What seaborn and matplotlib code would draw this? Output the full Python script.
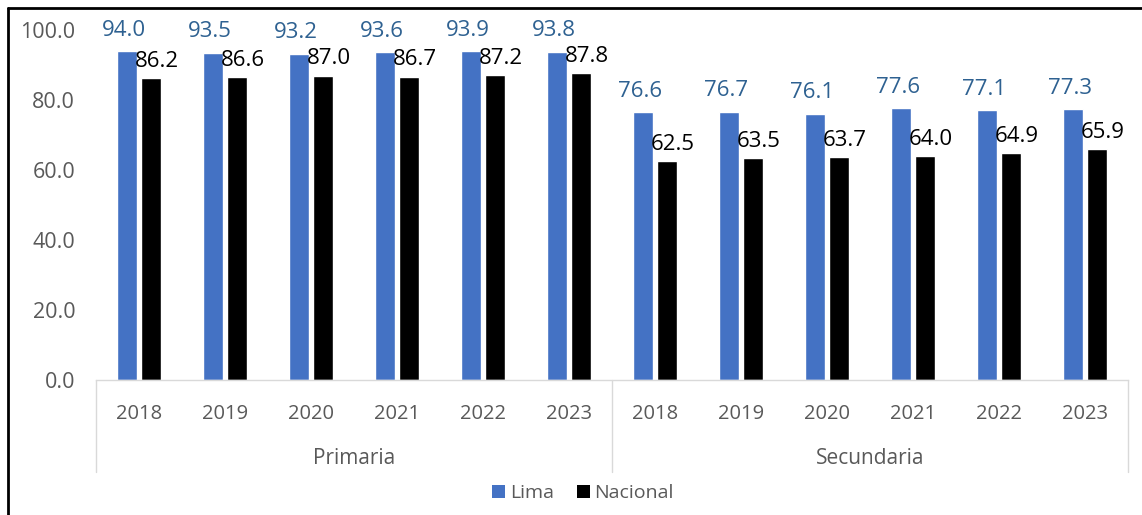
import matplotlib
matplotlib.use("Agg")
import matplotlib.pyplot as plt
import seaborn as sns
import pandas as pd
from matplotlib.patches import Patch
from matplotlib.lines import Line2D

groups = ["Primaria", "Secundaria"]
years = ["2018", "2019", "2020", "2021", "2022", "2023"]
lima = [94.0, 93.5, 93.2, 93.6, 93.9, 93.8, 76.6, 76.7, 76.1, 77.6, 77.1, 77.3]
nacional = [86.2, 86.6, 87.0, 86.7, 87.2, 87.8, 62.5, 63.5, 63.7, 64.0, 64.9, 65.9]
series = ["Lima", "Nacional"]
yticks = [0, 20, 40, 60, 80, 100]

cats = [f"{g} {y}" for g in groups for y in years]
df = pd.DataFrame({
    "cat": cats * 2,
    "serie": [series[0]] * len(cats) + [series[1]] * len(cats),
    "valor": lima + nacional,
})

BLUE = "#4472C4"
LBL_BLUE = "#2E6191"
GREY = "#595959"
LINE = "#D9D9D9"

sns.set_theme(style="white")
plt.rcParams["font.family"] = ["Open Sans", "DejaVu Sans"]

fig = plt.figure(figsize=(11.42, 5.15), dpi=100)
ax = fig.add_axes([96 / 1142, 1 - 380 / 515, (1128 - 96) / 1142, 350 / 515])

sns.barplot(data=df, x="cat", y="valor", hue="serie", order=cats,
            hue_order=series, palette=[BLUE, "black"], width=0.58, gap=0.2,
            ax=ax, legend=False, saturation=1)

ax.set_ylim(0, 100)
ax.set_xlim(-0.5, len(cats) - 0.5)
ax.set_yticks(yticks)
ax.set_yticklabels([f"{v:.1f}" for v in yticks], color=GREY, fontsize=15.5)
ax.tick_params(axis="y", length=0, pad=15)
ax.tick_params(axis="x", length=0, pad=17)
ax.set_xticks(range(len(cats)))
ax.set_xticklabels(years * len(groups), color=GREY, fontsize=14.5)
ax.set_xlabel("")
ax.set_ylabel("")
for s in ["top", "right", "left"]:
    ax.spines[s].set_visible(False)
ax.spines["bottom"].set_color(LINE)
ax.spines["bottom"].set_linewidth(1)

# data labels
for cont, col, dx, dy in [(ax.containers[0], LBL_BLUE, -2, 15), (ax.containers[1], "black", 4, 12)]:
    for bar in cont:
        h = bar.get_height()
        ax.annotate(f"{h:.1f}", (bar.get_x() + bar.get_width() / 2, h),
                    xytext=(dx, dy), textcoords="offset points",
                    ha="center", va="center", fontsize=16, color=col)

# group separators and labels
tr = ax.get_xaxis_transform()
for xs in [-0.5, 5.5, 11.5]:
    ax.add_line(Line2D([xs, xs], [0, -92 / 350], transform=tr, color=LINE,
                       lw=1, clip_on=False))
for i, g in enumerate(groups):
    ax.text(i * 6 + 2.5, -78 / 350, g, transform=tr, ha="center", va="center",
            fontsize=15, color=GREY)

handles = [Patch(facecolor=BLUE, edgecolor="none", label=series[0]),
           Patch(facecolor="black", edgecolor="none", label=series[1])]
fig.legend(handles=handles, loc="center", bbox_to_anchor=(583 / 1142, 1 - 493 / 515),
           ncol=2, frameon=False, fontsize=14, handlelength=0.65, handleheight=0.65,
           handletextpad=0.25, columnspacing=1.2, labelcolor=GREY)

# outer border (top and left visible)
fig.add_artist(Line2D([8 / 1142, 1], [1 - 8 / 515, 1 - 8 / 515], transform=fig.transFigure,
                      color="black", lw=2))
fig.add_artist(Line2D([8 / 1142, 8 / 1142], [0, 1 - 8 / 515], transform=fig.transFigure,
                      color="black", lw=2))

fig.savefig("out.png", dpi=100)
